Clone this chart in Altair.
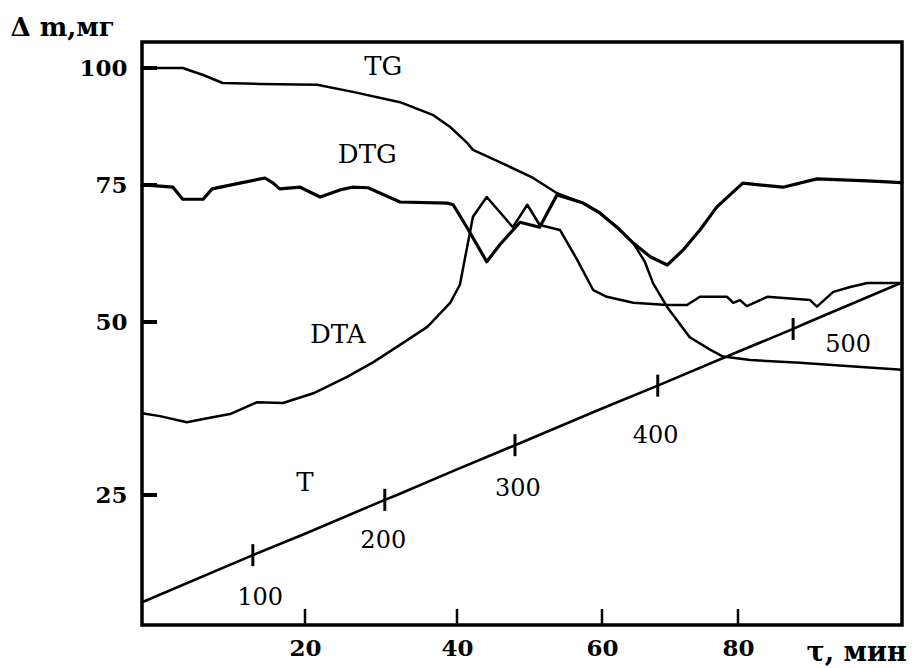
import altair as alt
import pandas as pd

# ---- data (x: time, min; y: axis units) ----
tg_x = [0, 5.0, 7.5, 9.9, 14.5, 21.6, 26.3, 32.5, 36.8, 39.1, 41.4, 42.2, 45.9, 50.5, 53.8,
        57.4, 59.7, 62.2, 64.6, 66.3, 67.5, 69.6, 72.9, 75.9, 77.8, 81.8, 89.1, 96.5, 104.1]
tg_y = [100, 100, 98.5, 96.8, 96.6, 96.4, 94.9, 92.7, 90.0, 87.4, 84.0, 82.5, 79.9, 76.5, 73.5,
        71.7, 69.9, 67.3, 64.4, 61.0, 57.1, 52.7, 47.8, 46.0, 45.0, 44.5, 44.1, 43.6, 43.1]

dtg_x = [0, 2.2, 3.8, 5.0, 7.5, 8.6, 12.0, 15.1, 16.1, 16.9, 19.4, 22.0, 24.6, 26.2, 28.3,
         32.5, 38.7, 39.5, 41.4, 44.1, 45.9, 48.7, 51.4, 53.8, 57.4, 59.7, 62.2, 64.6, 67.1,
         69.6, 71.9, 74.4, 76.9, 80.7, 86.6, 91.6, 99.0, 104.1]
dtg_y = [75, 74.8, 74.6, 72.4, 72.4, 74.3, 75.4, 76.5, 75.4, 74.3, 74.6, 72.8, 74.1, 74.6, 74.5,
         71.9, 71.7, 71.4, 67.2, 61.0, 64.1, 68.2, 67.3, 73.2, 71.7, 69.9, 67.3, 64.4, 61.9,
         60.4, 63.1, 66.8, 71.0, 75.4, 74.6, 76.3, 75.9, 75.5]

dta_x = [0, 2.2, 5.5, 8.0, 10.8, 14.1, 17.3, 21.1, 25.6, 29.0, 32.5, 36.1, 39.1, 40.4, 41.4,
         42.2, 44.1, 47.7, 49.7, 51.4, 54.2, 56.6, 58.8, 60.7, 64.6, 69.6, 72.5, 74.4, 78.4,
         79.3, 80.3, 81.3, 84.3, 90.6, 91.6, 94.0, 96.5, 99.0, 104.1]
dta_y = [36.8, 36.4, 35.5, 36.1, 36.7, 38.4, 38.3, 39.7, 42.1, 44.2, 46.7, 49.3, 53.5, 56.8, 63.7,
         69.2, 72.8, 67.3, 71.4, 67.7, 66.8, 61.3, 55.8, 54.6, 53.5, 53.1, 53.1, 54.6, 54.6,
         53.5, 54.0, 52.9, 54.6, 54.0, 52.8, 55.5, 56.4, 57.1, 57.1]

t_x = [0, 13.6, 20.0, 30.5, 32.1, 40.0, 48.0, 60.0, 68.2, 80.0, 88.1, 90.4, 104.1]
t_y = [9.5, 16.3, 19.4, 24.3, 25.0, 28.7, 32.2, 37.5, 40.8, 45.7, 49.0, 50.0, 57.2]

# temperature marks on the T curve
tmark_x = [13.6, 30.5, 48.0, 68.2, 88.1]
tmark_y = [16.3, 24.3, 32.2, 40.8, 49.0]
tlabel_text = ["100", "200", "300", "400", "500"]
tlabel_x = [14.5, 30.3, 48.4, 67.9, 96.2]
tlabel_y = [10.1, 18.4, 25.9, 33.5, 46.7]

curve_names = ["TG", "DTG", "DTA", "T"]
curve_label_x = [30.3, 28.2, 24.3, 20.0]
curve_label_y = [100.2, 81.4, 48.1, 26.7]
curve_width = [2.5, 3.2, 2.5, 2.6]

x_ticks = [20, 40, 60, 80]
y_ticks = [25, 50, 75, 100]

# hand-drawn (non-uniform) axes of the original figure
x_dom = [0, 20, 40, 60, 80, 104.1]
x_rng = [0, 163, 315, 460, 596, 760]
y_dom = [6.2, 25, 50, 75, 100, 105.6]
y_rng = [583, 453, 280, 143, 26, 0]

W, H = 760, 583

# ---- tables ----
frames = []
for name, xs, ys, w in zip(curve_names, [tg_x, dtg_x, dta_x, t_x], [tg_y, dtg_y, dta_y, t_y], curve_width):
    frames.append(pd.DataFrame({"t": xs, "v": ys, "curve": name, "i": range(len(xs)), "w": w}))
lines_df = pd.concat(frames, ignore_index=True)

tmarks_df = pd.DataFrame({"t": tmark_x, "v": tmark_y})
tlabels_df = pd.DataFrame({"t": tlabel_x, "v": tlabel_y, "txt": tlabel_text})
clabels_df = pd.DataFrame({"t": curve_label_x, "v": curve_label_y, "txt": curve_names})
xt_df = pd.DataFrame({"t": x_ticks})
yt_df = pd.DataFrame({"v": y_ticks})

SERIF = "DejaVu Serif"

xscale = alt.Scale(domain=x_dom, range=x_rng, zero=False, nice=False)
yscale = alt.Scale(domain=y_dom, range=y_rng, zero=False, nice=False)

xaxis = alt.Axis(values=x_ticks, ticks=False, tickSize=0, domain=False, grid=False,
                 labelFont=SERIF, labelFontWeight="bold", labelFontSize=23, labelColor="black",
                 labelPadding=12, labelFlush=False,
                 title="τ, мин", titleFont=SERIF, titleFontWeight="bold", titleFontSize=27,
                 titleColor="black", titleX=664, titleY=35, titleAlign="left",
                 titleBaseline="alphabetic")
yaxis = alt.Axis(values=y_ticks, ticks=False, tickSize=0, domain=False, grid=False,
                 labelFont=SERIF, labelFontWeight="bold", labelFontSize=23, labelColor="black",
                 labelPadding=15, labelFlush=False,
                 title="Δ m,мг", titleFont=SERIF, titleFontWeight="bold", titleFontSize=26,
                 titleColor="black", titleAngle=0, titleX=-132, titleY=-7, titleAlign="left",
                 titleBaseline="alphabetic")


def X():
    return alt.X("t:Q", scale=xscale, axis=xaxis)


def Y():
    return alt.Y("v:Q", scale=yscale, axis=yaxis)


lines = alt.Chart(lines_df).mark_line(color="black", strokeJoin="round", strokeCap="round").encode(
    x=X(), y=Y(), detail="curve:N", order="i:Q",
    strokeWidth=alt.StrokeWidth("w:Q", scale=None),
)

tmarks = alt.Chart(tmarks_df).mark_tick(orient="vertical", size=22, thickness=3, color="black",
                                          opacity=1).encode(x=X(), y=Y())

tlabels = alt.Chart(tlabels_df).mark_text(font=SERIF, fontSize=24, color="black",
                                            align="center", baseline="middle").encode(
    x=X(), y=Y(), text="txt:N")

clabels = alt.Chart(clabels_df).mark_text(font=SERIF, fontSize=26, color="black",
                                            align="center", baseline="middle").encode(
    x=X(), y=Y(), text="txt:N")

xticks = alt.Chart(xt_df).mark_rule(color="black", strokeWidth=2.5).encode(
    x=X(), y=alt.value(H), y2=alt.value(H - 16))

yticks = alt.Chart(yt_df).mark_rule(color="black", strokeWidth=4).encode(
    y=Y(), x=alt.value(0), x2=alt.value(15))

chart = alt.layer(lines, tmarks, tlabels, clabels, xticks, yticks).properties(
    width=W, height=H,
    autosize=alt.AutoSizeParams(type="none"),
    padding={"left": 142, "top": 42, "right": 22, "bottom": 43},
    background="white",
).configure_view(stroke="black", strokeWidth=3.5)

chart.save("out.html", embed_options={"renderer": "svg", "actions": False})
